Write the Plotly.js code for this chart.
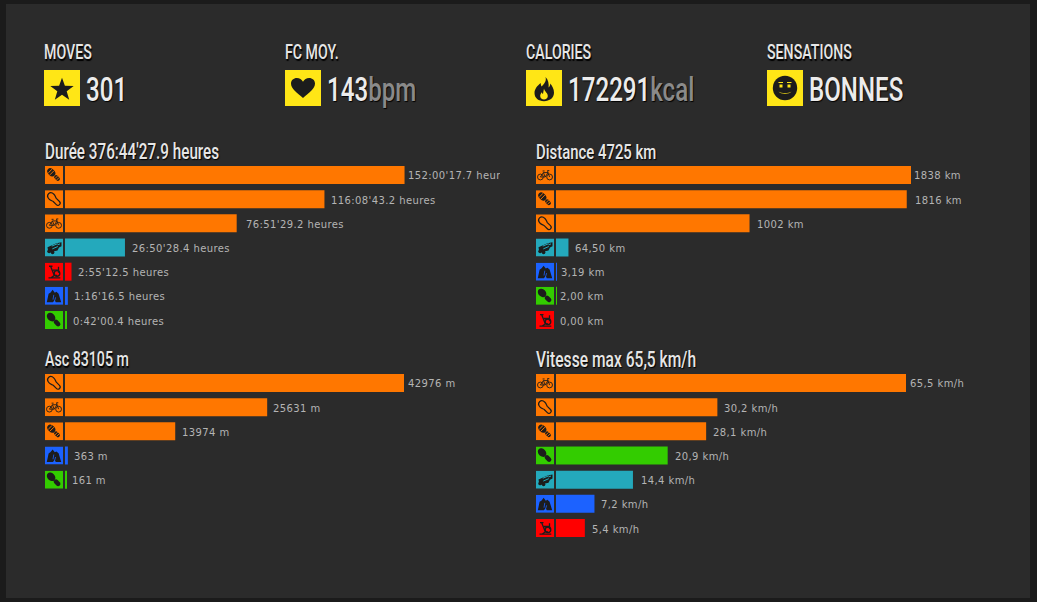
<!DOCTYPE html>
<html><head><meta charset="utf-8">
<script src="https://cdn.plot.ly/plotly-3.0.1.min.js"></script>
<style>
html,body{margin:0;padding:0;background:#1b1b1b;overflow:hidden}
#chart{width:1037px;height:602px}
text[style*="DejaVu"]{letter-spacing:.4px}
text[style*="Roboto"]{transform-box:fill-box;transform-origin:left center;transform:scaleX(.71)}
</style></head><body><div id="chart"></div>
<script>
// ---------- data ----------
const kpiLabels = ['MOVES','FC MOY.','CALORIES','SENSATIONS'];
const kpiValues = ['301','143','172291','BONNES'];
const kpiUnits  = ['','bpm','kcal',''];

const dureeTitle = "Durée 376:44'27.9 heures";
const dureeCats  = ['Trail','Course','Vélo','Roller','Home trainer','Randonnée','Marche'];
const dureeVals  = [152.005,116.145,76.858,26.841,2.920,1.271,0.700];
const dureeText  = ["152:00'17.7 heures","116:08'43.2 heures","76:51'29.2 heures","26:50'28.4 heures","2:55'12.5 heures","1:16'16.5 heures","0:42'00.4 heures"];

const distTitle = 'Distance 4725 km';
const distCats  = ['Vélo','Trail','Course','Roller','Randonnée','Marche','Home trainer'];
const distVals  = [1838,1816,1002,64.5,3.19,2.0,0];
const distText  = ['1838 km','1816 km','1002 km','64,50 km','3,19 km','2,00 km','0,00 km'];

const ascTitle = 'Asc 83105 m';
const ascCats  = ['Course','Vélo','Trail','Randonnée','Marche'];
const ascVals  = [42976,25631,13974,363,161];
const ascText  = ['42976 m','25631 m','13974 m','363 m','161 m'];

const vitTitle = 'Vitesse max 65,5 km/h';
const vitCats  = ['Vélo','Course','Trail','Marche','Roller','Randonnée','Home trainer'];
const vitVals  = [65.5,30.2,28.1,20.9,14.4,7.2,5.4];
const vitText  = ['65,5 km/h','30,2 km/h','28,1 km/h','20,9 km/h','14,4 km/h','7,2 km/h','5,4 km/h'];

// ---------- styles ----------
const W=1037,H=602;
const colors={'Trail':'#ff7700','Course':'#ff7700','Vélo':'#ff7700','Roller':'#24a9bc','Home trainer':'#ff0000','Randonnée':'#1c62ff','Marche':'#33cc00'};
const INK='#1c1c1c';
const glyphs={
 'Trail':`<g transform="rotate(-45 9 9)" fill="${INK}"><ellipse cx="9" cy="5.2" rx="3.3" ry="4.6"/><rect x="7" y="10" width="4" height="6.5" rx="2"/><path d="M6.500 3.500h5M6.200 6h5.600" stroke="#ff7700" stroke-width=".9"/><path d="M7 12.200h4M7 14.400h4" stroke="#ff7700" stroke-width=".8"/></g>`,
 'Course':`<g transform="rotate(-45 9 9)" fill="none" stroke="${INK}" stroke-width="1.200"><path d="M5.600 5.500c0-2.600 1.600-4.200 3.400-4.200s3.400 1.600 3.400 4.200c0 2.200-1 3.200-1.200 4.600v4.400c0 1.500-1 2.300-2.200 2.300s-2.200-.8-2.200-2.300v-4.400c-.2-1.400-1.200-2.400-1.200-4.600z"/></g>`,
 'Vélo':`<g fill="none" stroke="${INK}" stroke-width=".9"><circle cx="4.400" cy="11" r="2.900"/><circle cx="13.600" cy="11" r="2.900"/><path d="M4.400 11 7.400 6.600h4.600L13.600 11M7.400 6.600 9.200 11H4.400M6.600 5h2M12 6.600l-.5-2h1.800M9.200 11l2.800-4.400"/></g>`,
 'Roller':`<g fill="${INK}"><path d="M2.500 8.800 11.500 4.800 16.500 3.800 16.500 7.800 14 9 12.500 12 6 13.500 3 11.800z"/><circle cx="4.200" cy="12.800" r="1.900"/><circle cx="7.600" cy="13.900" r="1.800"/><path d="M6.800 7.600l5.800-2.400M7.300 10.400l5.500-2.400M12.500 6.300l2.500-.9" stroke="#24a9bc" stroke-width="1" fill="none"/></g>`,
 'Home trainer':`<g fill="none" stroke="${INK}" stroke-width="1.300"><circle cx="12" cy="10.800" r="2.800"/><path d="M4 3.600h3.500M5.600 3.600 9.300 12.800M3.500 15.200h11.800M6 15.200l3.300-2.400h2.700M8 7.500h5.500M13.500 4.200v6"/></g>`,
 'Randonnée':`<path fill="${INK}" d="M1.800 15.500 3.600 7 5.600 5.600l2 -2.600 2.200 2.800 1.600-.8 2.200 1.800 2.600 8.700h-5.400L9.600 13.200 8 15.500z"/><path fill="none" stroke="#1c62ff" stroke-width=".8" d="M8.800 8 8 12.800M10.600 10.500 9.600 14"/>`,
 'Marche':`<g transform="rotate(-45 9 9)" fill="${INK}"><ellipse cx="9" cy="4.900" rx="3.700" ry="4.800"/><rect x="6.700" y="9.500" width="4.600" height="7.600" rx="2.300"/></g>`
};
const bigGlyphs=[
 `<path fill="${INK}" d="M18 7.800 20.900 15.800 29.700 15.900 22.700 21.200 25.200 29.700 18 24.700 10.800 29.700 13.300 21.200 6.300 15.900 15.100 15.800z"/>`,
 `<path fill="${INK}" d="M18 28C12 23 6 18.800 6 13.600 6 10.200 8.700 8 11.800 8 14.500 8 16.800 9.600 18 11.800 19.200 9.600 21.500 8 24.200 8 27.300 8 30 10.200 30 13.600 30 18.800 24 23 18 28z"/>`,
 `<path fill="${INK}" d="M19.500 7c1.300 4.500-1.500 6.600-3.800 9.600-.8-1-1-2.200-.9-3.500C11.200 15.700 8.500 19.500 8.500 23c0 5 4 8.200 9.500 8.200s10-3.200 10-8.400c0-3.800-1.700-6.600-3.700-9.200-.1 1.600-.6 3-1.700 3.900C23 13.800 22.400 9.800 19.500 7z"/><path fill="#ffe616" d="M18 18.500c.4 3 3.800 4.200 3.800 7.500 0 2.200-1.700 3.600-3.800 3.600s-3.800-1.400-3.800-3.600c0-1.500.7-2.800 1.700-3.800.2.900.6 1.500 1.100 1.900.4-1.900.5-3.700 1-5.600z"/>`,
 `<circle cx="18" cy="18" r="12.200" fill="${INK}"/><path fill="#ffe616" d="M12.500 14.500h3v3h-3zM20.500 14.500h3v3h-3zM11.500 21.500c3 2 10 2 13 0-2 3-11 3-13 0z"/><path stroke="#ffe616" fill="none" d="M11.500 12.500h4.500M20 12.500h4.500"/>`
];
const uri=s=>'data:image/svg+xml,'+encodeURIComponent(s);
const tile=(cat)=>uri(`<svg xmlns="http://www.w3.org/2000/svg" width="18" height="18" viewBox="0 0 18 18"><rect width="18" height="18" fill="${colors[cat]}"/>${glyphs[cat]}</svg>`);
const bigTile=i=>uri(`<svg xmlns="http://www.w3.org/2000/svg" width="36" height="36" viewBox="0 0 36 36"><rect width="36" height="36" fill="#ffe616"/>${bigGlyphs[i]}</svg>`);
const px=x=>x/W, py=y=>1-y/H;

const panels=[
 {ax:'',  title:dureeTitle,cats:dureeCats,vals:dureeVals,text:dureeText,x0:65,x1:500,full:339.55,tx:44,ty:151,rowTop:162.9,tile:45,size:21.5,
  shift:[3,7,9,7,6,6,6]},
 {ax:'2', title:distTitle, cats:distCats, vals:distVals, text:distText, x0:556,x1:1000,full:355,tx:535,ty:151,rowTop:162.9,tile:536,size:21,
  shift:[3,8,7,7,4,4,4]},
 {ax:'3', title:ascTitle,  cats:ascCats,  vals:ascVals,  text:ascText,  x0:65,x1:500,full:339,tx:44,ty:359,rowTop:370.9,tile:45,size:20,
  shift:[4,6,7,6,6]},
 {ax:'4', title:vitTitle,  cats:vitCats,  vals:vitVals,  text:vitText,  x0:556,x1:1000,full:350,tx:535,ty:359,rowTop:370.9,tile:536,size:22,
  shift:[4,7,7,7,8,7,7]}
];
const PITCH=24.17, BAR=18;
const titleFont={family:'Roboto',size:20,weight:500,color:'#e6e6e6',shadow:'1px 1px 1px #000'};

const traces=[],annotations=[],images=[],layout={};
panels.forEach((p,idx)=>{
  const n=p.cats.length, xa='xaxis'+p.ax, ya='yaxis'+p.ax, xr='x'+p.ax, yr='y'+p.ax;
  traces.push({type:'bar',orientation:'h',x:p.vals,y:p.cats,xaxis:xr,yaxis:yr,
    marker:{color:p.cats.map(c=>colors[c]),line:{width:0}},hoverinfo:'x+y',showlegend:false});
  layout[xa]={domain:[px(p.x0),px(p.x1)],range:[0,Math.max(...p.vals)*(p.x1-p.x0)/p.full],visible:false,anchor:yr,fixedrange:true};
  layout[ya]={domain:[py(p.rowTop+n*PITCH),py(p.rowTop)],type:'category',categoryorder:'array',categoryarray:p.cats,
    range:[n-.5,-.5],autorange:false,visible:false,anchor:xr,fixedrange:true};
  annotations.push({xref:'paper',yref:'paper',x:px(p.tx),y:py(p.ty),xanchor:'left',yanchor:'middle',showarrow:false,borderpad:0,
    text:p.title,font:{...titleFont,size:p.size}});
  p.cats.forEach((c,i)=>{
    images.push({source:tile(c),xref:'paper',yref:yr,x:px(p.tile),y:i,sizex:BAR/W,sizey:BAR/PITCH,xanchor:'left',yanchor:'middle',sizing:'stretch',layer:'above'});
    const a={xref:xr,yref:yr,x:p.vals[i],y:i,xanchor:'left',yanchor:'middle',showarrow:false,borderpad:0,borderwidth:0,xshift:p.shift[i],yshift:-1,
      text:p.text[i],align:'left',font:{family:'DejaVu Sans',size:10,color:'#b4b4b4'}};
    if(idx===0&&i===0){a.width=92;}
    annotations.push(a);
  });
});
const kpiX=[44,285,526,767];
kpiLabels.forEach((l,i)=>{
  images.push({source:bigTile(i),xref:'paper',yref:'paper',x:px(kpiX[i]),y:py(70),sizex:36/W,sizey:36/H,xanchor:'left',yanchor:'top',sizing:'stretch',layer:'above'});
  annotations.push({xref:'paper',yref:'paper',x:px(kpiX[i]-1),y:py(52),xanchor:'left',yanchor:'middle',showarrow:false,borderpad:0,
    text:l,font:titleFont});
  annotations.push({xref:'paper',yref:'paper',x:px(kpiX[i]+41),y:py(90),xanchor:'left',yanchor:'middle',showarrow:false,borderpad:0,
    text:kpiValues[i]+(kpiUnits[i]?`<span style="color:#8a8a8a">${kpiUnits[i]}</span>`:''),
    font:{family:'Roboto',size:34,weight:500,color:'#ececec',shadow:'1px 1px 1px #000'}});
});
Object.assign(layout,{width:W,height:H,margin:{l:0,r:0,t:0,b:0},paper_bgcolor:'#1b1b1b',plot_bgcolor:'rgba(0,0,0,0)',
  bargap:1-BAR/PITCH,showlegend:false,annotations,images,
  shapes:[{type:'rect',xref:'paper',yref:'paper',x0:px(6),x1:px(1030),y0:py(598),y1:py(4),fillcolor:'#2b2b2b',line:{width:0},layer:'below'}]});
Plotly.newPlot('chart',traces,layout,{displayModeBar:false,responsive:false});
</script></body></html>
